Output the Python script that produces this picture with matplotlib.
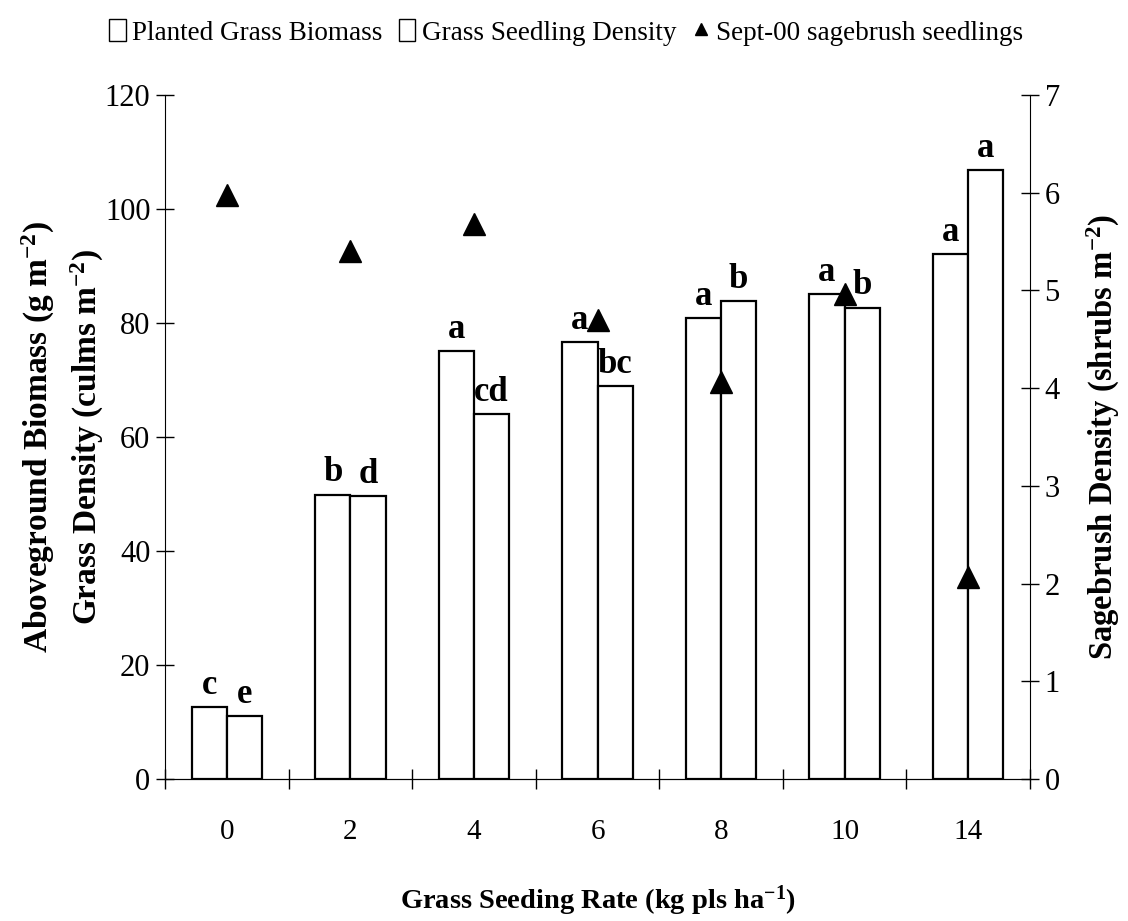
import numpy as np
import matplotlib
matplotlib.use("Agg")
import matplotlib.pyplot as plt
from matplotlib.patches import Patch
from matplotlib.lines import Line2D

plt.rcParams['font.family'] = ['Liberation Serif', 'DejaVu Serif']
plt.rcParams['mathtext.fontset'] = 'custom'
plt.rcParams['mathtext.rm'] = 'Liberation Serif'
plt.rcParams['mathtext.bf'] = 'Liberation Serif:bold'
plt.rcParams['mathtext.it'] = 'Liberation Serif:italic'

# data
rates = ['0', '2', '4', '6', '8', '10', '14']
biomass = [12.6, 49.9, 75.1, 76.6, 80.8, 85.1, 92.1]
density = [11.0, 49.6, 64.0, 68.9, 83.9, 82.7, 106.8]
sage = [5.98, 5.40, 5.68, 4.70, 4.06, 4.96, 2.07]
biomass_letters = ['c', 'b', 'a', 'a', 'a', 'a', 'a']
density_letters = ['e', 'd', 'cd', 'bc', 'b', 'b', 'a']

fig = plt.figure(figsize=(11.28, 9.21), dpi=100)
ax = fig.add_axes([0.1463, 0.1542, 0.7668, 0.7427])

x = np.arange(len(rates))
w = 0.285
ax.bar(x - w / 2, biomass, w, color='white', edgecolor='black', linewidth=1.6)
ax.bar(x + w / 2, density, w, color='white', edgecolor='black', linewidth=1.6)

# significance letters
for i in range(len(rates)):
    ax.text(x[i] - w / 2, biomass[i] + 2.3, biomass_letters[i], ha='center',
            va='baseline', fontsize=25, fontweight='bold')
    ax.text(x[i] + w / 2, density[i] + 2.3, density_letters[i], ha='center',
            va='baseline', fontsize=25, fontweight='bold')

ax.set_xlim(-0.5, 6.5)
ax.set_ylim(0, 120)
ax.set_yticks(range(0, 121, 20))
ax.set_xticks(x)
ax.set_xticklabels(rates)
ax.set_xticks(np.arange(-0.5, 7, 1), minor=True)
ax.tick_params(axis='x', which='major', length=0, pad=29, labelsize=21)
ax.tick_params(axis='x', which='minor', direction='inout', length=14, width=1)
ax.tick_params(axis='y', direction='inout', length=13, width=1, labelsize=22, pad=4)
ax.spines['top'].set_visible(False)
ax.spines['right'].set_visible(False)

ax.set_ylabel('Aboveground Biomass (g m$^{\\mathbf{-2}}$)\nGrass Density (culms m$^{\\mathbf{-2}}$)',
              fontsize=24, fontweight='bold', linespacing=1.45)
ax.yaxis.set_label_coords(-0.068, 0.5)
ax.set_xlabel('Grass Seeding Rate (kg pls ha$^{\\mathbf{-1}}$)', fontsize=20.5, fontweight='bold')
ax.xaxis.set_label_coords(0.5, -0.153)

ax2 = ax.twinx()
ax2.plot(x, sage, linestyle='none', marker='^', color='black', markersize=16)
ax2.set_ylim(0, 7)
ax2.set_yticks(range(0, 8))
ax2.tick_params(axis='y', direction='inout', length=13, width=1, labelsize=22, pad=4)
ax2.spines['top'].set_visible(False)
ax2.spines['left'].set_visible(False)
ax2.set_ylabel('Sagebrush Density (shrubs m$^{\\mathbf{-2}}$)', fontsize=23.5, fontweight='bold',
               rotation=90)
ax2.yaxis.set_label_coords(1.063, 0.5)

handles = [Patch(facecolor='white', edgecolor='black', linewidth=1),
           Patch(facecolor='white', edgecolor='black', linewidth=1),
           Line2D([], [], linestyle='none', marker='^', color='black', markersize=9)]
labels = ['Planted Grass Biomass', 'Grass Seedling Density', 'Sept-00 sagebrush seedlings']
fig.legend(handles, labels, loc='upper center', bbox_to_anchor=(0.502, 1.0), ncol=3,
           frameon=False, fontsize=19.5, handlelength=0.6, handleheight=0.9,
           handletextpad=0.25, columnspacing=0.6, borderpad=0.2)

fig.savefig('out.png', dpi=100)
